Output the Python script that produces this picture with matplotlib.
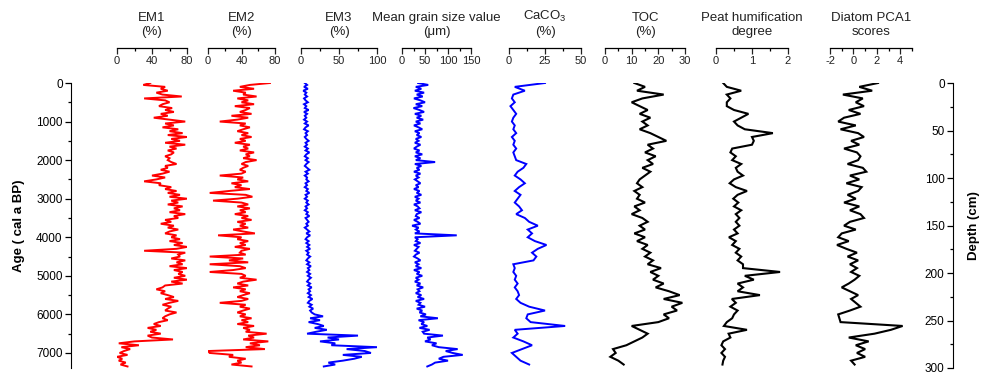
import matplotlib.pyplot as plt
from matplotlib.ticker import MultipleLocator
import matplotlib.transforms as mtransforms

plt.rcParams['font.family'] = ['Liberation Sans', 'DejaVu Sans']
plt.rcParams['mathtext.fontset'] = 'custom'
plt.rcParams['mathtext.rm'] = 'Liberation Sans'
plt.rcParams['axes.unicode_minus'] = False

# sample ages (cal a BP)
age50 = list(range(0, 7400, 50))
age100 = list(range(0, 7400, 100))

# end-member 1 (%), 50-yr samples
em1 = [38, 30, 55, 50, 58, 45, 52, 74, 31, 55,
       60, 52, 48, 63, 55, 65, 50, 58, 42, 60,
       78, 55, 65, 52, 70, 60, 75, 58, 80, 62,
       72, 55, 78, 60, 68, 58, 65, 62, 55, 60,
       58, 62, 68, 55, 58, 50, 60, 52, 40, 55,
       45, 31, 50, 48, 62, 55, 68, 58, 72, 60,
       80, 62, 70, 58, 75, 65, 72, 60, 78, 65,
       70, 55, 62, 50, 65, 58, 70, 60, 55, 68,
       62, 72, 60, 75, 65, 80, 68, 31, 78, 70,
       72, 62, 78, 68, 75, 60, 80, 65, 75, 70,
       78, 65, 80, 62, 75, 55, 52, 45, 55, 50,
       58, 65, 55, 70, 60, 52, 62, 58, 55, 68,
       60, 55, 52, 58, 48, 42, 50, 35, 45, 38,
       50, 35, 40, 64, 20, 2, 25, 5, 15, 8,
       3, 12, 0, 6, 2, 10, 4, 12]

em2 = [74, 50, 38, 55, 30, 45, 42, 58, 35, 48,
       40, 55, 32, 50, 45, 38, 52, 28, 48, 35,
       14, 45, 38, 50, 42, 35, 48, 40, 52, 38,
       45, 32, 50, 42, 48, 38, 55, 45, 50, 42,
       58, 45, 40, 48, 42, 38, 45, 40, 14, 42,
       35, 48, 28, 40, 32, 50, 25, 2, 45, 53,
       35, 6, 40, 48, 35, 50, 38, 45, 32, 48,
       40, 52, 35, 45, 38, 48, 30, 42, 56, 12,
       40, 35, 48, 38, 45, 32, 50, 40, 38, 45,
       2, 42, 25, 48, 2, 38, 45, 30, 2, 40,
       45, 38, 58, 42, 35, 48, 30, 45, 38, 50,
       42, 35, 48, 40, 14, 45, 38, 50, 42, 35,
       45, 38, 52, 40, 48, 35, 55, 42, 50, 45,
       70, 48, 55, 42, 72, 50, 62, 45, 68, 0,
       2, 30, 25, 45, 35, 40, 28, 52]

em3 = [5, 8, 4, 9, 3, 7, 5, 8, 4, 6,
       9, 4, 7, 5, 10, 4, 8, 5, 7, 4,
       8, 5, 10, 6, 4, 9, 6, 8, 5, 7,
       10, 6, 8, 5, 9, 6, 11, 7, 5, 9,
       6, 10, 7, 5, 8, 11, 6, 9, 5, 8,
       7, 10, 6, 8, 5, 9, 7, 11, 6, 8,
       5, 9, 7, 10, 6, 8, 5, 9, 7, 11,
       6, 8, 10, 7, 9, 5, 8, 11, 7, 12,
       8, 6, 10, 7, 11, 8, 12, 7, 10, 8,
       12, 9, 7, 11, 8, 13, 9, 11, 8, 12,
       9, 13, 10, 8, 12, 9, 14, 10, 12, 9,
       13, 10, 15, 11, 9, 14, 11, 16, 12, 14,
       18, 29, 12, 25, 10, 22, 30, 18, 34, 20,
       8, 75, 35, 50, 25, 45, 40, 100, 60, 84,
       92, 55, 80, 70, 55, 36, 45, 30]

grain = [35, 57, 30, 42, 28, 48, 32, 45, 26, 40,
         50, 30, 44, 25, 38, 48, 28, 42, 32, 46,
         30, 40, 26, 36, 44, 28, 38, 32, 42, 30,
         36, 28, 40, 32, 26, 38, 30, 44, 28, 40,
         30, 72, 28, 42, 32, 38, 26, 40, 30, 36,
         28, 34, 40, 30, 36, 26, 38, 32, 42, 28,
         36, 30, 40, 26, 34, 38, 28, 42, 32, 30,
         38, 26, 34, 40, 22, 36, 30, 38, 28, 119,
         28, 34, 30, 40, 26, 36, 32, 28, 38, 30,
         26, 34, 40, 28, 36, 30, 42, 26, 38, 32,
         44, 30, 36, 28, 40, 32, 46, 34, 38, 30,
         42, 34, 48, 30, 40, 36, 50, 32, 44, 38,
         52, 40, 78, 36, 48, 42, 55, 38, 60, 45,
         48, 89, 55, 62, 50, 75, 65, 80, 121, 95,
         110, 132, 90, 80, 100, 72, 65, 55]

# 100-yr samples
caco3 = [25, 4, 11, 3, 2, 4, 1, 3, 5, 3,
         2, 4, 3, 5, 2, 4, 3, 5, 3, 4,
         5, 12, 10, 6, 4, 8, 11, 7, 4, 8,
         6, 4, 7, 9, 5, 11, 14, 20, 13, 16,
         13, 18, 26, 20, 16, 19, 17, 3, 4, 3,
         5, 4, 6, 4, 6, 7, 5, 8, 14, 25,
         13, 12, 15, 39, 4, 6, 3, 10, 16, 9,
         2, 5, 8, 14]

toc = [11, 15, 12, 22, 14, 10, 13, 16, 13, 17,
       14, 16, 13, 17, 20, 23, 16, 18, 15, 19,
       16, 18, 14, 17, 15, 13, 12, 14, 11, 13,
       12, 15, 11, 13, 10, 14, 16, 13, 15, 11,
       15, 12, 16, 14, 17, 15, 18, 16, 21, 17,
       20, 18, 22, 19, 24, 28, 22, 29, 25, 27,
       22, 24, 20, 10, 13, 16, 14, 11, 8, 3,
       4, 2, 5, 7]

peat = [0.2, 0.3, 0.7, 0.3, 0.4, 0.3, 0.3, 0.5, 0.9, 0.7,
        0.5, 0.6, 0.8, 1.58, 1.0, 1.05, 1.0, 0.45, 0.4, 0.55,
        0.45, 0.7, 0.55, 0.6, 0.75, 0.5, 0.38, 0.55, 0.86, 0.6,
        0.48, 0.62, 0.5, 0.7, 0.55, 0.65, 0.55, 0.65, 0.5, 0.6,
        0.36, 0.55, 0.45, 0.65, 0.55, 0.7, 0.6, 0.75, 0.75, 1.78,
        0.8, 1.05, 0.6, 0.75, 0.6, 1.22, 0.44, 0.55, 0.4, 0.6,
        0.5, 0.45, 0.3, 0.22, 0.86, 0.35, 0.4, 0.2, 0.15, 0.25,
        0.15, 0.25, 0.2, 0.18]

diatom = [2.1, 0.5, 1.6, -0.9, 0.8, 0.2, 0.9, -0.4, 0.6, -0.8,
          -1.3, 0.2, -1.1, 0.4, 0.9, -0.2, 0.5, -0.8, 0.3, 0.6,
          0.4, -0.5, 0.8, 1.1, -0.3, 0.5, -0.6, 0.7, 0.4, -0.5,
          0.2, -0.8, 0.5, -0.3, 0.6, 0.9, -0.3, -0.8, 0.2, -1.0,
          -1.3, -0.4, -1.4, -0.6, 0.3, -0.5, 0.4, -0.3, 0.3, -0.2,
          0.5, 0.1, -0.4, -1.0, -0.3, 0.4, -0.2, 0.2, 0.6, -0.3,
          -1.3, -1.2, -1.1, 4.2, 3.2, 1.8, -0.4, 1.3, 0.2, 1.0,
          0.3, 1.0, -0.2, 0.1]

age_max = 7390
depth_max = 300

W, H = 985, 379
fig = plt.figure(figsize=(W / 100, H / 100), dpi=100)

top_px, bot_px = 83, 368
ax_h = (bot_px - top_px) / H
ax_b = 1 - bot_px / H
spine_up = 35  # px the top scale sits above the data area

# title, data, ages, left px, right px, xlim, major, minor, colour, line width
panels = [
    ("EM1\n(%)", em1, age50, 117, 187, (0, 80), 40, 20, "#ff0000", 1.4),
    ("EM2\n(%)", em2, age50, 208, 275, (0, 80), 40, 20, "#ff0000", 1.4),
    ("EM3\n(%)", em3, age50, 301, 377, (0, 100), 50, 25, "#0000ff", 1.4),
    ("Mean grain size value\n(\u03bcm)", grain, age50, 402, 471, (0, 150), 50, 25, "#0000ff", 1.4),
    ("CaCO$_\\mathregular{3}$\n(%)", caco3, age100, 509, 581, (0, 50), 25, 12.5, "#0000ff", 1.4),
    ("TOC\n(%)", toc, age100, 605, 685, (0, 30), 10, 5, "black", 1.5),
    ("Peat humification\ndegree", peat, age100, 716, 788, (0, 2), 1, 0.5, "black", 1.5),
    ("Diatom PCA1\nscores", diatom, age100, 830, 912, (-2, 5), 2, 1, "black", 1.5),
]

for title, vals, ages, x0, x1, xlim, major, minor, col, lw in panels:
    ax = fig.add_axes([x0 / W, ax_b, (x1 - x0) / W, ax_h])
    ax.plot(vals, ages, color=col, lw=lw, solid_joinstyle='miter')
    ax.set_xlim(*xlim)
    ax.set_ylim(age_max, 0)
    for s in ['top', 'left', 'right']:
        ax.spines[s].set_visible(False)
    ax.spines['bottom'].set_position(('axes', 1 + spine_up / (bot_px - top_px)))
    ax.spines['bottom'].set_linewidth(0.9)
    ax.set_yticks([])
    ax.xaxis.set_major_locator(MultipleLocator(major))
    ax.xaxis.set_minor_locator(MultipleLocator(minor))
    ax.tick_params(axis='x', which='major', direction='out', length=4, width=0.9,
                   labelsize=8, pad=2, colors='#222222')
    ax.tick_params(axis='x', which='minor', direction='out', length=2.5, width=0.9)
    ax.patch.set_visible(False)
    trans = mtransforms.blended_transform_factory(ax.transAxes, fig.transFigure)
    ax.text(0.5, 1 - 38 / H, title, transform=trans, ha='center', va='bottom',
            fontsize=9.5, linespacing=1.25, color='#222222')

# age axis on the left
ax_age = fig.add_axes([71 / W, ax_b, 0.001, ax_h])
ax_age.set_ylim(age_max, 0)
for s in ['top', 'bottom', 'right']:
    ax_age.spines[s].set_visible(False)
ax_age.set_xticks([])
ax_age.yaxis.set_major_locator(MultipleLocator(1000))
ax_age.yaxis.set_minor_locator(MultipleLocator(500))
ax_age.tick_params(axis='y', which='major', length=4, width=0.9, labelsize=8.5, pad=2)
ax_age.tick_params(axis='y', which='minor', length=2.5, width=0.9)
ax_age.set_ylabel("Age ( cal a BP)", fontsize=9.5, fontweight='bold', labelpad=8)
ax_age.patch.set_visible(False)

# depth axis on the right
ax_d = fig.add_axes([953 / W, ax_b, 0.001, ax_h])
ax_d.set_ylim(depth_max, 0)
for s in ['top', 'bottom', 'right']:
    ax_d.spines[s].set_visible(False)
ax_d.set_xticks([])
ax_d.yaxis.set_major_locator(MultipleLocator(50))
ax_d.yaxis.set_minor_locator(MultipleLocator(25))
ax_d.tick_params(axis='y', which='major', length=4, width=0.9, labelsize=8.5, pad=2)
ax_d.tick_params(axis='y', which='minor', length=2.5, width=0.9)
ax_d.yaxis.set_label_position('right')
ax_d.set_ylabel("Depth (cm)", fontsize=9.5, fontweight='bold', labelpad=10)
ax_d.patch.set_visible(False)

fig.savefig("out.png", dpi=100)
